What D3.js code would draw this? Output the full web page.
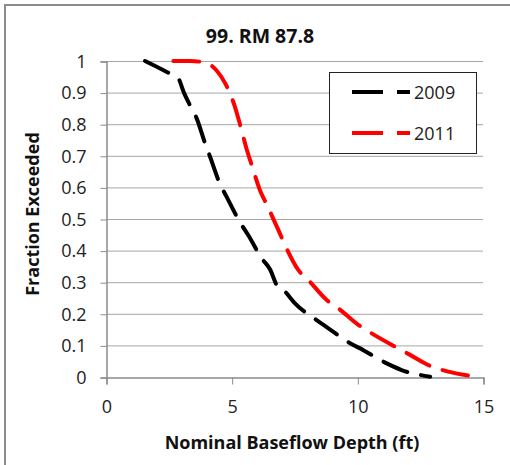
<!DOCTYPE html>
<html>
<head>
<meta charset="utf-8">
<script src="https://cdn.jsdelivr.net/npm/d3@7"></script>
<style>
  html, body { margin: 0; padding: 0; background: #fff; }
  svg { display: block; font-family: "Open Sans", sans-serif; }
</style>
</head>
<body>
<svg id="chart" width="510" height="465"></svg>
<script>
// Exceedance curves of nominal baseflow depth
const chartTitle = "99. RM 87.8";
const xTitle = "Nominal Baseflow Depth (ft)";
const yTitle = "Fraction Exceeded";

const seriesNames = ["2009", "2011"];
const seriesColors = ["#000000", "#ff0000"];

const depth2009 = [1.55, 2.4, 2.87, 3.1, 3.34, 3.6, 3.94, 4.14, 4.54, 4.8, 5.33, 5.65, 6.2, 6.53, 6.8, 7.12, 7.52, 8.38, 8.85, 9.71, 10.24, 11.17, 11.76, 12.9];
const frac2009  = [1.0, 0.966, 0.946, 0.9, 0.86, 0.82, 0.74, 0.697, 0.61, 0.57, 0.49, 0.45, 0.375, 0.34, 0.29, 0.27, 0.233, 0.18, 0.154, 0.107, 0.085, 0.043, 0.022, 0.001];

const depth2011 = [2.68, 3.34, 3.94, 4.4, 4.74, 5.13, 5.33, 5.6, 5.8, 6.13, 6.4, 6.86, 7.12, 7.65, 8.05, 8.78, 9.25, 10.04, 10.57, 11.5, 12.1, 12.96, 13.62, 14.75];
const frac2011  = [1.0, 1.0, 0.995, 0.97, 0.93, 0.855, 0.8, 0.72, 0.67, 0.59, 0.545, 0.465, 0.418, 0.339, 0.307, 0.244, 0.217, 0.165, 0.138, 0.096, 0.07, 0.033, 0.017, 0.001];

const xTicks = [0, 5, 10, 15];
const yTicks = [0, 0.1, 0.2, 0.3, 0.4, 0.5, 0.6, 0.7, 0.8, 0.9, 1];

const svg = d3.select("#chart");
const plot = { left: 106, right: 483, top: 61, bottom: 377 };

const x = d3.scaleLinear().domain([0, 15]).range([plot.left, plot.right]);
const y = d3.scaleLinear().domain([0, 1]).range([plot.bottom, plot.top]);

// outer frame (top and left edges)
svg.append("path")
  .attr("d", "M5,465 V5 H510")
  .attr("fill", "none")
  .attr("stroke", "#8c8c8c")
  .attr("stroke-width", 2);

// horizontal gridlines
svg.append("g")
  .selectAll("line")
  .data(yTicks.filter(d => d > 0))
  .join("line")
  .attr("x1", plot.left).attr("x2", plot.right)
  .attr("y1", d => y(d) + 0.5).attr("y2", d => y(d) + 0.5)
  .attr("stroke", "#a6a6a6").attr("stroke-width", 1);

// y axis
const yAxis = svg.append("g")
  .attr("transform", `translate(${plot.left + 0.5},0.5)`)
  .call(d3.axisLeft(y).tickValues(yTicks).tickSize(6).tickPadding(14).tickFormat(d3.format("")));
yAxis.select(".domain").attr("stroke", "#8c8c8c").attr("stroke-width", 1.5);
yAxis.selectAll(".tick line").attr("stroke", "#8c8c8c");
yAxis.selectAll(".tick text")
  .attr("fill", "#222").attr("font-size", 18).attr("font-family", "'Open Sans', sans-serif");

// x axis
const xAxis = svg.append("g")
  .attr("transform", `translate(0.5,${plot.bottom + 0.5})`)
  .call(d3.axisBottom(x).tickValues(xTicks).tickSize(7).tickPadding(16).tickFormat(d3.format("d")));
xAxis.select(".domain").attr("stroke", "#8c8c8c").attr("stroke-width", 1.5);
xAxis.selectAll(".tick line").attr("stroke", "#8c8c8c");
xAxis.selectAll(".tick text")
  .attr("fill", "#222").attr("font-size", 18).attr("font-family", "'Open Sans', sans-serif");

// titles
svg.append("text")
  .attr("x", 260).attr("y", 43)
  .attr("text-anchor", "middle")
  .attr("font-weight", "bold").attr("font-size", 19.5)
  .attr("fill", "#111")
  .text(chartTitle);

svg.append("text")
  .attr("x", 292).attr("y", 449)
  .attr("text-anchor", "middle")
  .attr("font-weight", "bold").attr("font-size", 18)
  .attr("fill", "#111")
  .text(xTitle);

svg.append("text")
  .attr("transform", "translate(39,214) rotate(-90)")
  .attr("text-anchor", "middle")
  .attr("font-weight", "bold").attr("font-size", 18)
  .attr("fill", "#111")
  .text(yTitle);

// series lines
const line = d3.line()
  .x(d => x(d[0]))
  .y(d => y(d[1]))
  .curve(d3.curveMonotoneX);

const series = [
  d3.zip(depth2009, frac2009),
  d3.zip(depth2011, frac2011)
];

svg.append("g")
  .selectAll("path")
  .data(series)
  .join("path")
  .attr("d", line)
  .attr("fill", "none")
  .attr("stroke", (d, i) => seriesColors[i])
  .attr("stroke-width", 4)
  .attr("stroke-linecap", "round")
  .attr("stroke-dasharray", "26,14");

// legend
const legend = svg.append("g");
legend.append("rect")
  .attr("x", 329.5).attr("y", 72.5)
  .attr("width", 147).attr("height", 81)
  .attr("fill", "#fff").attr("stroke", "#222").attr("stroke-width", 1);

const entryY = [92, 133];
seriesNames.forEach((name, i) => {
  legend.append("line")
    .attr("x1", 352).attr("x2", 410)
    .attr("y1", entryY[i]).attr("y2", entryY[i])
    .attr("stroke", seriesColors[i])
    .attr("stroke-width", 4)
    .attr("stroke-dasharray", "31,14");
  legend.append("text")
    .attr("x", 414).attr("y", entryY[i] + 6.5)
    .attr("font-size", 18)
    .attr("font-family", "'Open Sans', sans-serif")
    .attr("fill", "#222")
    .text(name);
});
</script>
</body>
</html>
